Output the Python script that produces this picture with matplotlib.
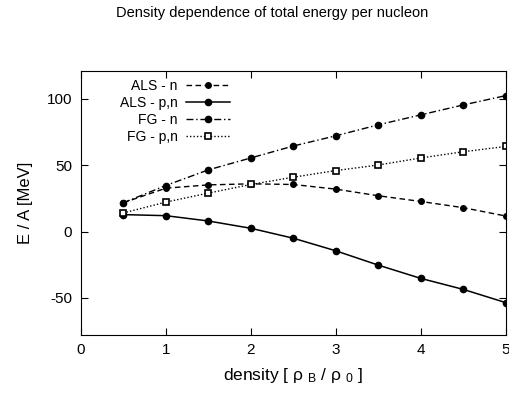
import matplotlib
matplotlib.use('Agg')
import matplotlib.pyplot as plt

plt.rcParams['font.family'] = ['Liberation Sans', 'DejaVu Sans']
plt.rcParams['mathtext.fontset'] = 'custom'
plt.rcParams['mathtext.rm'] = 'Liberation Sans'
plt.rcParams['mathtext.it'] = 'Liberation Sans'
plt.rcParams['axes.unicode_minus'] = False

density = [0.5, 1.0, 1.5, 2.0, 2.5, 3.0, 3.5, 4.0, 4.5, 5.0]
als_n = [21.7, 32.7, 35.2, 36.0, 35.5, 32.0, 27.0, 22.7, 18.0, 11.7]
als_pn = [12.8, 12.0, 8.0, 2.5, -5.0, -14.5, -25.3, -35.3, -43.6, -53.6]
fg_n = [21.7, 34.7, 46.5, 55.5, 64.5, 72.2, 80.5, 88.0, 95.5, 102.5]
fg_pn = [14.0, 22.2, 29.0, 35.5, 41.0, 46.0, 50.2, 55.5, 60.2, 64.2]

fig = plt.figure(figsize=(5.09, 3.97), dpi=100)
ax = fig.add_axes([0.1585, 0.156, 0.8355, 0.665])

ax.plot(density, als_n, color='black', lw=1, ls=(0, (4, 2.5)), marker='o', ms=4,
        label='ALS - n')
ax.plot(density, als_pn, color='black', lw=1.1, ls='-', marker='o', ms=4.5,
        label='ALS - p,n')
ax.plot(density, fg_n, color='black', lw=1, ls=(0, (5, 2, 1, 2)), marker='o', ms=4.5,
        label='FG - n')
ax.plot(density, fg_pn, color='black', lw=1, ls=(0, (1, 1.5)), marker='s', ms=4,
        markerfacecolor='white', markeredgewidth=1.2, label='FG - p,n')

ax.set_xlim(0, 5)
ax.set_ylim(-78, 121)
ax.set_xticks([0, 1, 2, 3, 4, 5])
ax.set_yticks([-50, 0, 50, 100])
ax.tick_params(direction='in', top=True, right=True, length=5, labelsize=11, pad=6)

ax.set_xlabel(r'density [ ρ $_{\rm B}$ / ρ $_{\rm 0}$ ]', fontsize=12.5, labelpad=6)
ax.set_ylabel('E / A [MeV]', fontsize=12, labelpad=10)
fig.text(0.535, 0.985, 'Density dependence of total energy per nucleon',
         ha='center', va='top', fontsize=10.5)

leg = ax.legend(loc='upper right', bbox_to_anchor=(0.365, 0.99), frameon=False,
                markerfirst=False, fontsize=10, handlelength=3.2,
                labelspacing=0.2, handletextpad=0.6, borderaxespad=0)
for t in leg.get_texts():
    t.set_ha('right')
leg._legend_box.align = 'right'

fig.savefig('out.png', dpi=100)
